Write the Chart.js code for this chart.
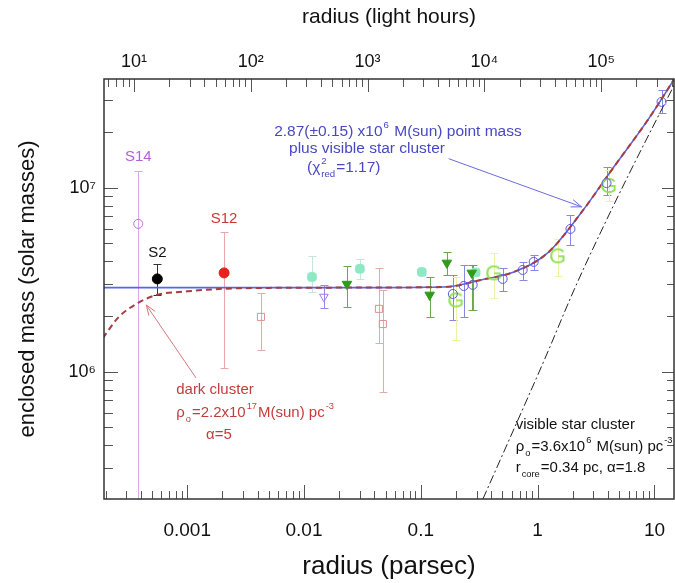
<!DOCTYPE html>
<html>
<head>
<meta charset="utf-8">
<title>Enclosed mass vs radius</title>
<script src="https://cdn.jsdelivr.net/npm/chart.js@4.4.0/dist/chart.umd.min.js"></script>
<style>
  body { margin: 0; background: #fff; }
  canvas { display: block; }
</style>
</head>
<body>
<canvas id="chart" width="675" height="583"></canvas>
<script>
// axis ranges and tick labels (radius in parsec, mass in solar masses)
const xMin = 1.94e-4, xMax = 14.7;
const yMin = 2.04e5, yMax = 3.9e7;
const LIGHT_HOURS_PER_PC = 28578;
const xTickValues = [0.001, 0.01, 0.1, 1, 10];
const xTickLabels = ['0.001', '0.01', '0.1', '1', '10'];
const topTickValues = [1e1, 1e2, 1e3, 1e4, 1e5];
const topTickLabels = ['10¹', '10²', '10³', '10⁴', '10⁵'];
const yTickValues = [1e6, 1e7];
const yTickLabels = ['10⁶', '10⁷'];

// individual stars
const s14R = [3.81e-4], s14M = [6.37e6], s14Lo = [1e5], s14Hi = [1.24e7];
const s2R = [5.55e-4], s2M = [3.2e6], s2Lo = [2.62e6], s2Hi = [3.86e6];
const s12R = [2.07e-3], s12M = [3.45e6], s12Lo = [1.05e6], s12Hi = [5.77e6];

// other mass estimates
const pinkR = [4.28e-3, 0.0438, 0.0473];
const pinkM = [1.99e6, 2.2e6, 1.82e6];
const pinkLo = [1.32e6, 1.44e6, 7.8e5];
const pinkHi = [2.68e6, 3.67e6, 2.79e6];

const violetR = [0.0148], violetM = [2.56e6], violetLo = [2.23e6], violetHi = [2.97e6];

const cyanR = [0.0117, 0.0301, 0.102, 0.295];
const cyanM = [3.28e6, 3.63e6, 3.49e6, 3.47e6];
const cyanLo = [2.7e6, 3.2e6, null, null];
const cyanHi = [4.27e6, 4.1e6, null, null];

const greenR = [0.0233, 0.119, 0.167, 0.273];
const greenM = [3.0e6, 2.62e6, 3.91e6, 3.45e6];
const greenLo = [2.25e6, 1.99e6, 3.36e6, 2.17e6];
const greenHi = [3.77e6, 3.28e6, 4.49e6, 3.82e6];

const gR = [0.199, 0.42, 1.48, 4.05];
const gM = [2.46e6, 3.45e6, 4.27e6, 1.03e7];
const gLo = [1.49e6, 2.52e6, 3.3e6, 8.5e6];
const gHi = [3.28e6, 4.43e6, 5.3e6, 1.25e7];

const blueR = [0.188, 0.233, 0.278, 0.502, 0.745, 0.925, 1.91, 3.89, 11.5];
const blueM = [2.65e6, 2.93e6, 2.97e6, 3.2e6, 3.58e6, 3.96e6, 5.98e6, 1.06e7, 2.93e7];
const blueLo = [1.92e6, 1.99e6, 2.17e6, 2.76e6, 3.16e6, 3.58e6, 4.9e6, 9.16e6, 2.56e7];
const blueHi = [3.36e6, 3.82e6, 3.82e6, 3.67e6, 3.96e6, 4.33e6, 7.13e6, 1.3e7, 3.41e7];

// model curves
const fitR = [1.9e-4, 1e-3, 0.01, 0.05, 0.1, 0.17, 0.327, 0.626, 1.22, 2.35, 4.5, 8.79, 15];
const fitM = [2.87e6, 2.87e6, 2.87e6, 2.87e6, 2.88e6, 2.9e6, 3.16e6, 3.49e6, 4.43e6, 7.3e6, 1.3e7, 2.34e7, 3.95e7];
const darkR = [1.9e-4, 2.6e-4, 3.8e-4, 5.5e-4, 1e-3, 2.07e-3, 5e-3, 0.02, 0.1, 0.17, 0.327, 0.626, 1.22, 2.35, 4.5, 8.79, 15];
const darkM = [1.53e6, 1.99e6, 2.37e6, 2.62e6, 2.74e6, 2.83e6, 2.86e6, 2.87e6, 2.88e6, 2.9e6, 3.16e6, 3.49e6, 4.43e6, 7.3e6, 1.3e7, 2.34e7, 3.95e7];
const starR = [0.34, 0.678, 1.18, 2.05, 3.48, 6.3, 14.7];
const starM = [2.04e5, 5.48e5, 1.22e6, 2.79e6, 5.77e6, 1.25e7, 3.6e7];

const FONT = '"Liberation Sans", Arial, sans-serif';

const pts = (rs, ms) => rs.map((r, i) => ({ x: r, y: ms[i] }));

function labelFor(v, values, labels) {
    const i = values.findIndex(t => Math.abs(Math.log10(t) - Math.log10(v)) < 1e-6);
    return i >= 0 ? labels[i] : '';
}

function logTicks(min, max) {
    const out = [];
    for (let e = Math.floor(Math.log10(min)); e <= Math.ceil(Math.log10(max)); e++) {
        for (let m = 1; m <= 9; m++) {
            const v = m * Math.pow(10, e);
            if (v >= min && v <= max) out.push({ v, major: m === 1 });
        }
    }
    return out;
}

function letterMarker(ch, color, size) {
    const c = document.createElement('canvas');
    c.width = size;
    c.height = size;
    const g = c.getContext('2d');
    g.font = `${size - 3}px ${FONT}`;
    g.fillStyle = color;
    g.textAlign = 'center';
    g.textBaseline = 'middle';
    g.fillText(ch, size / 2, size / 2 + 1);
    return c;
}

// draws text with super/subscripts, parts: {t}, {sup}, {sub}, or {sup, sub} stacked
function drawRich(ctx, x, y, parts, size, color) {
    ctx.fillStyle = color;
    ctx.textAlign = 'left';
    ctx.textBaseline = 'middle';
    let cx = x;
    const small = size * 0.62;
    parts.forEach(p => {
        if (p.t !== undefined) {
            ctx.font = `${size}px ${FONT}`;
            ctx.fillText(p.t, cx, y);
            cx += ctx.measureText(p.t).width;
        } else {
            ctx.font = `${small}px ${FONT}`;
            let w = 0;
            if (p.sup) {
                ctx.fillText(p.sup, cx + 1, y - size * 0.45);
                w = Math.max(w, ctx.measureText(p.sup).width);
            }
            if (p.sub) {
                ctx.fillText(p.sub, cx + 1, y + size * 0.4);
                w = Math.max(w, ctx.measureText(p.sub).width);
            }
            cx += w + 2;
        }
    });
}

function arrow(ctx, x1, y1, x2, y2, color) {
    const ang = Math.atan2(y2 - y1, x2 - x1);
    const h = 11;
    ctx.strokeStyle = color;
    ctx.lineWidth = 1;
    ctx.beginPath();
    ctx.moveTo(x1, y1);
    ctx.lineTo(x2, y2);
    ctx.moveTo(x2 - h * Math.cos(ang - 0.35), y2 - h * Math.sin(ang - 0.35));
    ctx.lineTo(x2, y2);
    ctx.lineTo(x2 - h * Math.cos(ang + 0.35), y2 - h * Math.sin(ang + 0.35));
    ctx.stroke();
}

// annotations anchored in data coordinates
const notes = [
    { r: 5.55e-3, m: 2.01e7, size: 15.5, color: '#4848c4', parts: [{ t: '2.87(±0.15) x10' }, { sup: '6' }, { t: ' M(sun) point mass' }] },
    { r: 7.44e-3, m: 1.63e7, size: 15.5, color: '#4848c4', parts: [{ t: 'plus visible star cluster' }] },
    { r: 0.0106, m: 1.28e7, size: 15.5, color: '#4848c4', parts: [{ t: '(χ' }, { sup: '2', sub: 'red' }, { t: '=1.17)' }] },
    { r: 8.05e-4, m: 7.98e5, size: 15, color: '#c43c3c', parts: [{ t: 'dark cluster' }] },
    { r: 8.05e-4, m: 5.98e5, size: 15, color: '#c43c3c', parts: [{ t: 'ρ' }, { sub: 'o' }, { t: '=2.2x10' }, { sup: '17' }, { t: 'M(sun) pc' }, { sup: '-3' }] },
    { r: 1.45e-3, m: 4.55e5, size: 15, color: '#c43c3c', parts: [{ t: 'α=5' }] },
    { r: 0.649, m: 5.15e5, size: 15, color: '#111', parts: [{ t: 'visible star cluster' }] },
    { r: 0.649, m: 3.91e5, size: 15, color: '#111', parts: [{ t: 'ρ' }, { sub: 'o' }, { t: '=3.6x10' }, { sup: '6' }, { t: ' M(sun) pc' }, { sup: '-3' }] },
    { r: 0.649, m: 3.0e5, size: 15, color: '#111', parts: [{ t: 'r' }, { sub: 'core' }, { t: '=0.34 pc, α=1.8' }] }
];
const starLabels = [
    { text: 'S14', r: 3.81e-4, m: 1.47e7, color: '#b45ed8' },
    { text: 'S2', r: 5.55e-4, m: 4.43e6, color: '#111' },
    { text: 'S12', r: 2.07e-3, m: 6.79e6, color: '#d03434' }
];
const arrows = [
    { r1: 0.173, m1: 1.44e7, r2: 2.38, m2: 7.88e6, color: '#6a6ae0' },
    { r1: 1.19e-3, m1: 9.27e5, r2: 4.46e-4, m2: 2.31e6, color: '#d47a7a' }
];

const errorBarPlugin = {
    id: 'errorBars',
    beforeDatasetsDraw(chart) {
        const { ctx, chartArea: a, scales: { x, y } } = chart;
        ctx.save();
        ctx.beginPath();
        ctx.rect(a.left, a.top, a.right - a.left, a.bottom - a.top);
        ctx.clip();
        chart.data.datasets.forEach(ds => {
            if (!ds.errLo) return;
            ctx.strokeStyle = ds.errColor;
            ctx.lineWidth = 1;
            ds.data.forEach((pt, i) => {
                const lo = ds.errLo[i], hi = ds.errHi[i];
                if (lo == null || hi == null) return;
                const px = Math.round(x.getPixelForValue(pt.x)) + 0.5;
                const y1 = Math.round(y.getPixelForValue(lo)) + 0.5;
                const y2 = Math.round(y.getPixelForValue(hi)) + 0.5;
                ctx.beginPath();
                ctx.moveTo(px, y1); ctx.lineTo(px, y2);
                ctx.moveTo(px - 4, y1); ctx.lineTo(px + 4, y1);
                ctx.moveTo(px - 4, y2); ctx.lineTo(px + 4, y2);
                ctx.stroke();
            });
        });
        ctx.restore();
    }
};

const framePlugin = {
    id: 'frame',
    afterDraw(chart) {
        const { ctx, chartArea: a, scales } = chart;
        const { x, x2, y } = scales;
        ctx.save();

        starLabels.forEach(l => {
            ctx.font = `15px ${FONT}`;
            ctx.fillStyle = l.color;
            ctx.textAlign = 'center';
            ctx.textBaseline = 'middle';
            ctx.fillText(l.text, x.getPixelForValue(l.r), y.getPixelForValue(l.m));
        });
        notes.forEach(n => drawRich(ctx, x.getPixelForValue(n.r), y.getPixelForValue(n.m), n.parts, n.size, n.color));
        arrows.forEach(ar => arrow(ctx, x.getPixelForValue(ar.r1), y.getPixelForValue(ar.m1),
            x.getPixelForValue(ar.r2), y.getPixelForValue(ar.m2), ar.color));

        // inward tick marks on all four sides
        ctx.strokeStyle = '#555';
        ctx.lineWidth = 1;
        ctx.beginPath();
        logTicks(x.min, x.max).forEach(t => {
            const p = Math.round(x.getPixelForValue(t.v)) + 0.5;
            ctx.moveTo(p, a.bottom);
            ctx.lineTo(p, a.bottom - (t.major ? 14 : 8));
        });
        logTicks(x2.min, x2.max).forEach(t => {
            const p = Math.round(x2.getPixelForValue(t.v)) + 0.5;
            ctx.moveTo(p, a.top);
            ctx.lineTo(p, a.top + (t.major ? 13 : 8));
        });
        logTicks(y.min, y.max).forEach(t => {
            const p = Math.round(y.getPixelForValue(t.v)) + 0.5;
            ctx.moveTo(a.left, p);
            ctx.lineTo(a.left + (t.major ? 14 : 9), p);
            ctx.moveTo(a.right, p);
            ctx.lineTo(a.right - (t.major ? 12 : 7), p);
        });
        ctx.stroke();

        ctx.strokeStyle = '#333';
        ctx.lineWidth = 1.5;
        ctx.strokeRect(a.left, a.top, a.right - a.left, a.bottom - a.top);
        ctx.restore();
    }
};

function pointSet(rs, ms, lo, hi, style) {
    return Object.assign({
        data: pts(rs, ms),
        errLo: lo,
        errHi: hi,
        showLine: false,
        pointBorderWidth: 1,
        pointRadius: 4.5
    }, style);
}

function curveSet(rs, ms, style) {
    return Object.assign({
        data: pts(rs, ms),
        showLine: true,
        pointRadius: 0,
        fill: false,
        cubicInterpolationMode: 'monotone'
    }, style);
}

// fixed axis boxes so the plot frame sits where the original has it
function fixHeight(h) {
    return s => {
        s.height = h;
        s.paddingLeft = 0;
        s.paddingRight = 0;
    };
}

const gMarker = letterMarker('G', '#8fe05a', 25);

const datasets = [
    pointSet(s2R, s2M, s2Lo, s2Hi, { errColor: '#333', pointStyle: 'circle', pointRadius: 5, pointBackgroundColor: '#000', pointBorderColor: '#000' }),
    pointSet(s12R, s12M, s12Lo, s12Hi, { errColor: '#e8a8a8', pointStyle: 'circle', pointRadius: 5, pointBackgroundColor: '#e82020', pointBorderColor: '#e82020' }),
    pointSet(s14R, s14M, s14Lo, s14Hi, { errColor: '#d8a8ee', pointStyle: 'circle', pointBackgroundColor: 'rgba(0,0,0,0)', pointBorderColor: '#c070e0' }),
    pointSet(blueR, blueM, blueLo, blueHi, { errColor: '#8888e4', pointStyle: 'circle', pointBackgroundColor: 'rgba(0,0,0,0)', pointBorderColor: '#5a5ad8' }),
    pointSet(gR, gM, gLo, gHi, { errColor: '#eef0a8', pointStyle: gMarker }),
    pointSet(greenR, greenM, greenLo, greenHi, { errColor: '#6aa850', pointStyle: 'triangle', pointRotation: 180, pointRadius: 5.5, pointBackgroundColor: '#2f9a1c', pointBorderColor: '#2f9a1c' }),
    pointSet(cyanR, cyanM, cyanLo, cyanHi, { errColor: '#c4e6d8', pointStyle: 'rectRounded', pointRadius: 5, pointBackgroundColor: '#8ee8c4', pointBorderColor: '#8ee8c4' }),
    pointSet(violetR, violetM, violetLo, violetHi, { errColor: '#9a88e6', pointStyle: 'triangle', pointRotation: 180, pointRadius: 5, pointBackgroundColor: 'rgba(0,0,0,0)', pointBorderColor: '#9a7ae6' }),
    pointSet(pinkR, pinkM, pinkLo, pinkHi, { errColor: '#e8a8a8', pointStyle: 'rect', pointRadius: 5, pointBackgroundColor: 'rgba(0,0,0,0)', pointBorderColor: '#e09090' }),
    curveSet(darkR, darkM, { borderColor: '#a83c40', borderWidth: 2, borderDash: [6, 4] }),
    curveSet(fitR, fitM, { borderColor: '#5866e2', borderWidth: 1.6 }),
    curveSet(starR, starM, { borderColor: '#222', borderWidth: 1, borderDash: [9, 3, 2, 3] })
];

new Chart(document.getElementById('chart'), {
    type: 'scatter',
    data: { datasets },
    options: {
        responsive: false,
        animation: false,
        events: [],
        layout: { autoPadding: false, padding: { left: 0, right: 1, top: 0, bottom: 0 } },
        plugins: { legend: { display: false }, tooltip: { enabled: false } },
        scales: {
            x: {
                type: 'logarithmic',
                position: 'bottom',
                min: xMin,
                max: xMax,
                grid: { display: false, drawTicks: false },
                border: { display: false },
                ticks: {
                    autoSkip: false, maxRotation: 0, padding: 20, color: '#111',
                    font: { size: 19, family: FONT },
                    callback: v => labelFor(v, xTickValues, xTickLabels)
                },
                title: { display: true, text: 'radius (parsec)', color: '#111', font: { size: 26, family: FONT }, padding: { top: 0, bottom: 1 } },
                afterFit: fixHeight(84)
            },
            x2: {
                type: 'logarithmic',
                position: 'top',
                min: xMin * LIGHT_HOURS_PER_PC,
                max: xMax * LIGHT_HOURS_PER_PC,
                grid: { display: false, drawTicks: false },
                border: { display: false },
                ticks: {
                    autoSkip: false, maxRotation: 0, padding: 6, color: '#111',
                    font: { size: 18, family: FONT },
                    callback: v => labelFor(v, topTickValues, topTickLabels)
                },
                title: { display: true, text: 'radius (light hours)', color: '#111', font: { size: 21, family: FONT }, padding: { top: 5, bottom: 0 } },
                afterFit: fixHeight(79)
            },
            y: {
                type: 'logarithmic',
                position: 'left',
                min: yMin,
                max: yMax,
                grid: { display: false, drawTicks: false },
                border: { display: false },
                ticks: {
                    autoSkip: false, padding: 8, color: '#111',
                    font: { size: 18, family: FONT },
                    callback: v => labelFor(v, yTickValues, yTickLabels)
                },
                title: { display: true, text: 'enclosed mass (solar masses)', color: '#111', font: { size: 22, family: FONT }, padding: { top: 15, bottom: 0 } },
                afterFit: s => { s.width = 104; s.paddingTop = 0; s.paddingBottom = 0; }
            }
        }
    },
    plugins: [errorBarPlugin, framePlugin]
});
</script>
</body>
</html>
